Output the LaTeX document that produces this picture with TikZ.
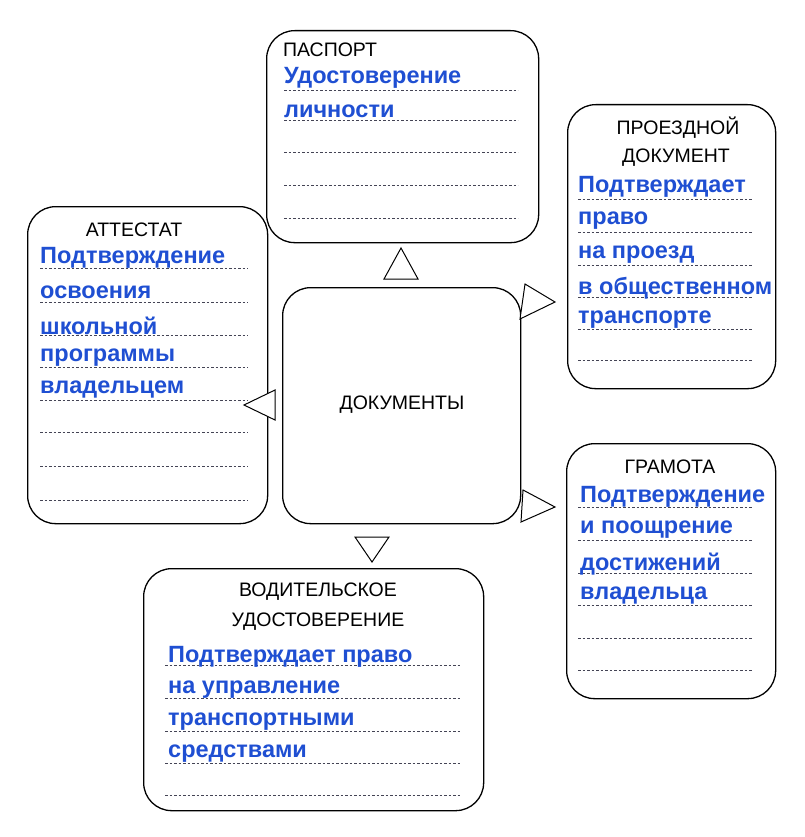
\documentclass[tikz,border=0pt]{standalone}
\usepackage{fontspec}
\setmainfont{Liberation Sans}
\definecolor{ans}{HTML}{1F4FD2}
\definecolor{dl}{HTML}{444455}
\begin{document}
\begin{tikzpicture}[x=1pt,y=-1pt,
  box/.style={draw,line width=1.3pt,rounded corners=28pt,anchor=north west,inner sep=0pt},
  ttl/.style={font=\fontsize{19.5}{22}\selectfont},
  ansr/.style={anchor=west,inner sep=0pt,text=ans,font=\fontsize{23.5}{26}\selectfont\bfseries},
  dots/.style={dl,dashed,dash pattern=on 2.5pt off 2pt,line width=0.7pt},
  tri/.style={draw,line width=1pt,fill=white}]
\useasboundingbox (0,0) rectangle (804,837);
% boxes
\node[box,minimum width=272pt,minimum height=212pt] (pas) at (266,30) {};
\node[box,minimum width=208pt,minimum height=284pt] (pro) at (567,104) {};
\node[box,minimum width=240pt,minimum height=317pt] (att) at (27,206) {};
\node[box,minimum width=238pt,minimum height=236pt] (doc) at (282,287) {};
\node[box,minimum width=209pt,minimum height=255pt] (gra) at (566,443) {};
\node[box,minimum width=340pt,minimum height=242pt] (vod) at (143,568) {};
% titles
\node[ttl] (t1) at (330,50) {ПАСПОРТ};
\node[ttl] (t2) at (678,128) {ПРОЕЗДНОЙ};
\node[ttl] (t3) at (676,158) {ДОКУМЕНТ};
\node[ttl] (t4) at (134,230) {АТТЕСТАТ};
\node[ttl] (t5) at (402,405) {ДОКУМЕНТЫ};
\node[ttl] (t6) at (670,467) {ГРАМОТА};
\node[ttl] (t7) at (318,592) {ВОДИТЕЛЬСКОЕ};
\node[ttl] (t8) at (318,622) {УДОСТОВЕРЕНИЕ};
% dotted lines
\foreach \y in {90,120,152,185,218} \draw[dots] (284,\y) -- (518,\y);
\foreach \y in {199,232,265,297,329,360} \draw[dots] (578,\y) -- (752,\y);
\foreach \y in {268,302,335,367,400,432,466,500} \draw[dots] (40,\y) -- (248,\y);
\foreach \y in {507,540,573,605,638,670} \draw[dots] (578,\y) -- (752,\y);
\foreach \y in {665,698,731,763,795} \draw[dots] (165,\y) -- (460,\y);
% answers
\node[ansr] (a1) at (284,78) {Удостоверение};
\node[ansr] (a2) at (284,111) {личности};
\node[ansr] (b1) at (578,187) {Подтверждает};
\node[ansr] (b2) at (578,221) {право};
\node[ansr] (b3) at (578,255) {на проезд};
\node[ansr] (b4) at (578,288) {в общественном};
\node[ansr] (b5) at (578,320) {транспорте};
\node[ansr] (c1) at (40,258) {Подтверждение};
\node[ansr] (c2) at (40,292) {освоения};
\node[ansr] (c3) at (40,326) {школьной};
\node[ansr] (c4) at (40,358) {программы};
\node[ansr] (c5) at (40,390) {владельцем};
\node[ansr] (d1) at (580,497) {Подтверждение};
\node[ansr] (d2) at (580,530) {и поощрение};
\node[ansr] (d3) at (580,564) {достижений};
\node[ansr] (d4) at (580,596) {владельца};
\node[ansr] (e1) at (168,657) {Подтверждает право};
\node[ansr] (e2) at (168,690) {на управление};
\node[ansr] (e3) at (168,722) {транспортными};
\node[ansr] (e4) at (168,754) {средствами};
% triangles
\draw[tri] (384,279) -- (418,279) -- (401,248) -- cycle;
\draw[tri] (525,284) -- (555,302) -- (520,319) -- cycle;
\draw[tri] (275,390) -- (275,420) -- (244,405) -- cycle;
\draw[tri] (523,490) -- (555,507) -- (521,522) -- cycle;
\draw[tri] (355,537) -- (389,537) -- (372,562) -- cycle;
\end{tikzpicture}
\end{document}
